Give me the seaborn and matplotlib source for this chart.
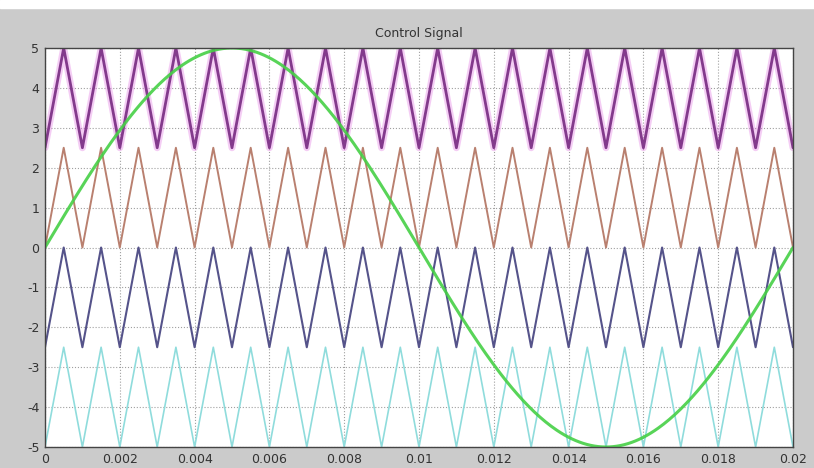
import numpy as np
import pandas as pd
import matplotlib
matplotlib.use("Agg")
import matplotlib.pyplot as plt
import seaborn as sns

# signal parameters
sine_amp = 5.0          # green reference peak
sine_freq = 50.0        # one period over 0..0.02 s
carrier_freq = 1000.0   # 20 triangles over 0..0.02 s
carrier_low = [2.5, 0.0, -2.5, -5.0]
carrier_high = [5.0, 2.5, 0.0, -2.5]
carrier_names = ["c1", "c2", "c3", "c4"]
carrier_colors = ["#833a8c", "#b9806f", "#55538a", "#8fdcdc"]
carrier_widths = [2.0, 1.4, 1.5, 1.2]
x_ticks = [0, 0.002, 0.004, 0.006, 0.008, 0.01, 0.012, 0.014, 0.016, 0.018, 0.02]
x_labels = ["0", "0.002", "0.004", "0.006", "0.008", "0.01", "0.012", "0.014", "0.016", "0.018", "0.02"]
y_ticks = list(range(-5, 6))
t_end = 0.02

sns.set_style("white")
plt.rcParams["font.family"] = ["DejaVu Sans"]
plt.rcParams["axes.unicode_minus"] = False

# triangle carriers: vertices every half period, trough at t=0
t_vert = np.arange(0, t_end + 1e-9, 0.5 / carrier_freq)
rows = []
for name, lo, hi in zip(carrier_names, carrier_low, carrier_high):
    vals = np.where(np.arange(len(t_vert)) % 2 == 0, lo, hi)
    rows.append(pd.DataFrame({"t": t_vert, "v": vals, "name": name}))
carriers = pd.concat(rows)

t_s = np.linspace(0, t_end, 400)
ref = pd.DataFrame({"t": t_s, "v": sine_amp * np.sin(2 * np.pi * sine_freq * t_s)})

fig = plt.figure(figsize=(8.14, 4.68), dpi=100, facecolor="#cbcbcb")
fig.patches.append(plt.Rectangle((0, 1 - 8 / 468), 1, 8 / 468, transform=fig.transFigure,
                                 color="white", zorder=-1))
ax = fig.add_axes([45 / 814, 21 / 468, 748 / 814, 399 / 468])
ax.set_facecolor("white")

# soft pink halo under the top carrier (blurred look of the original)
d1 = carriers[carriers["name"] == carrier_names[0]]
sns.lineplot(data=d1, x="t", y="v", ax=ax, color="#e070e0", lw=5, alpha=0.35, estimator=None, sort=False)
for name, col, lw in zip(carrier_names, carrier_colors, carrier_widths):
    d = carriers[carriers["name"] == name]
    sns.lineplot(data=d, x="t", y="v", ax=ax, color=col, lw=lw, estimator=None, sort=False)
sns.lineplot(data=ref, x="t", y="v", ax=ax, color="#46d046", lw=2.2, estimator=None, alpha=0.9)

ax.set_xlim(0, t_end)
ax.set_ylim(-5, 5)
ax.set_xticks(x_ticks)
ax.set_xticklabels(x_labels)
ax.set_yticks(y_ticks)
ax.set_xlabel("")
ax.set_ylabel("")
ax.grid(True, linestyle=":", color="#a0a0a0", lw=0.8)
ax.tick_params(direction="in", length=4, labelsize=9, colors="#333333", pad=4)
for s in ax.spines.values():
    s.set_color("#444444")
    s.set_linewidth(1.0)
ax.set_title("Control Signal", fontsize=9, color="#333333", pad=8)

fig.savefig("out.png", dpi=100, facecolor=fig.get_facecolor())
